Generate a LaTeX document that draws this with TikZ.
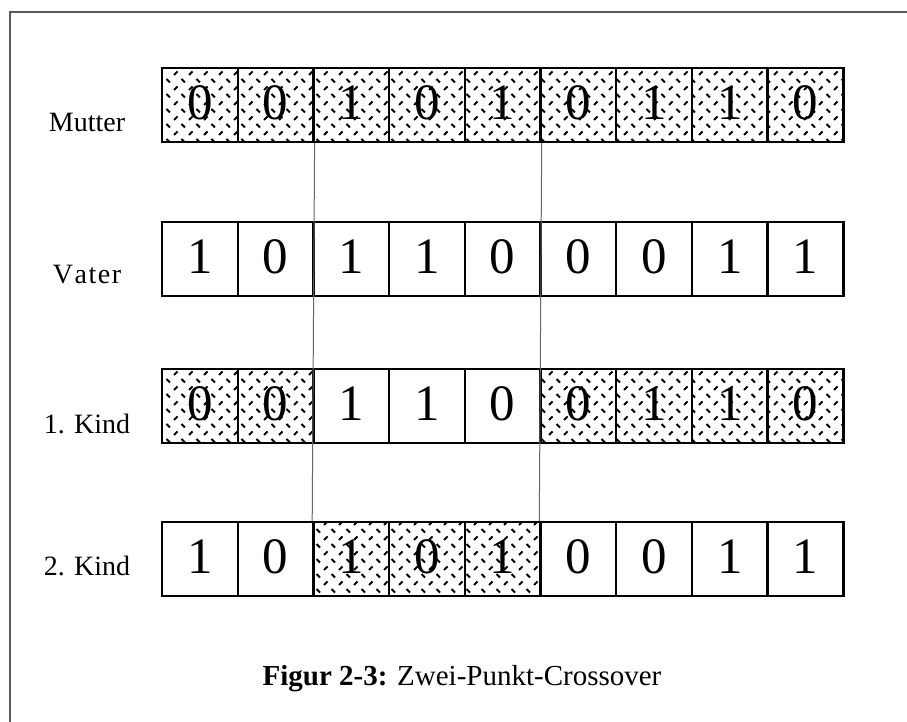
\documentclass[tikz,border=0pt]{standalone}
\usepackage{fontspec}
\setmainfont{Liberation Serif}
\usetikzlibrary{patterns}

% short diagonal dashes, alternating directions
\pgfdeclarepatternformonly{dashmix}{\pgfqpoint{-1pt}{-1pt}}{\pgfqpoint{16pt}{16pt}}{\pgfqpoint{15pt}{15pt}}{%
  \pgfsetlinewidth{1.8pt}
  \pgfpathmoveto{\pgfqpoint{1.5pt}{13pt}}\pgflineto{\pgfqpoint{5pt}{9.5pt}}
  \pgfpathmoveto{\pgfqpoint{9pt}{2pt}}\pgflineto{\pgfqpoint{12.5pt}{5.5pt}}
  \pgfusepath{stroke}}

\tikzset{
  cell/.style={draw=black, line width=2.4pt, minimum width=75.7pt, minimum height=74pt,
    inner sep=0pt, font=\fontsize{51}{51}\selectfont, text depth=5pt, fill=white},
  pat/.style={cell, postaction={pattern=dashmix}},
  plain/.style={cell},
  rowlabel/.style={anchor=base, font=\fontsize{28}{28}\selectfont, inner sep=0pt},
  cut/.style={draw=gray!80!black, line width=1pt},
  frame/.style={draw=gray!70!black, line width=1.5pt},
  caption/.style={anchor=base, font=\fontsize{29}{29}\selectfont, inner sep=0pt}
}

\begin{document}
\begin{tikzpicture}[x=1pt, y=-1pt]
  \useasboundingbox (0,0) rectangle (907,722);
  \fill[white] (0,0) rectangle (907,722);

  % frame edges
  \draw[frame] (10,722) -- (10,12) -- (907,12);

  % rows: name / top y / digits / patterned flags
  \foreach \r/\ty/\bits/\marks in {
      m/68/{0,0,1,0,1,0,1,1,0}/{1,1,1,1,1,1,1,1,1},
      v/222/{1,0,1,1,0,0,0,1,1}/{0,0,0,0,0,0,0,0,0},
      a/369/{0,0,1,1,0,0,1,1,0}/{1,1,0,0,0,1,1,1,1},
      b/522/{1,0,1,0,1,0,0,1,1}/{0,0,1,1,1,0,0,0,0}} {
    \foreach \d [count=\i] in \bits {
      \foreach \p [count=\j] in \marks {
        \ifnum\i=\j
          \ifnum\p=1
            \node[pat] (\r\i) at (162+\i*75.7-37.85, \ty+37) {\d};
          \else
            \node[plain] (\r\i) at (162+\i*75.7-37.85, \ty+37) {\d};
          \fi
        \fi
      }
    }
  }

  % cut lines between crossover points
  \draw[cut] (m2.south east) -- (b3.north west);
  \draw[cut] (m5.south east) -- (b6.north west);

  % row labels
  \node[rowlabel] (lm) at (87,132) {Mutter};
  \node[rowlabel] (lv) at (87,283) {V\kern1.5pt a\kern1.5pt t\kern1.5pt e\kern1.5pt r};
  \node[rowlabel] (la) at (87,433) {1. Kind};
  \node[rowlabel] (lb) at (87,575) {2. Kind};

  % caption
  \node[caption] (cap) at (462,685) {\textbf{Figur 2-3:} Zwei-Punkt-Crossover};
\end{tikzpicture}
\end{document}
